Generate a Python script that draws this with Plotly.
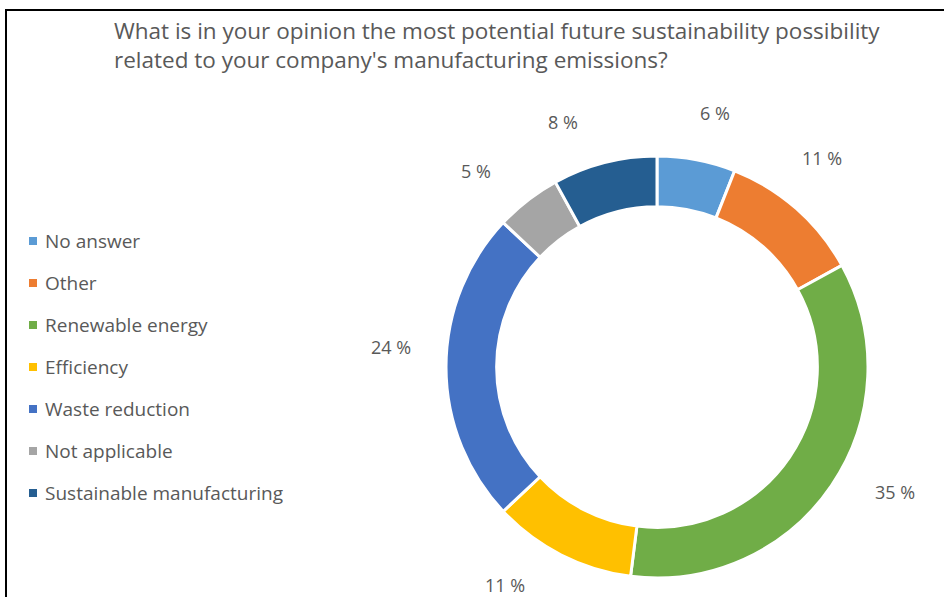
import math
import plotly.graph_objects as go

# Survey answers and their shares (%)
categories = ["No answer", "Other", "Renewable energy", "Efficiency",
              "Waste reduction", "Not applicable", "Sustainable manufacturing"]
shares = [6, 11, 35, 11, 24, 5, 8]
colors = ["#5B9BD5", "#ED7D31", "#70AD47", "#FFC000",
          "#4472C4", "#A5A5A5", "#255E91"]
title_lines = ["What is in your opinion the most potential future sustainability possibility",
               "related to your company's manufacturing emissions?"]

# small angular shifts (degrees) so the outside labels don't crowd each other
label_nudge = [2, -3, -6.5, 8, 4.3, -5, -6.6]

W, H = 944, 597
FONT = "Open Sans"
TXT = "#595959"

# donut geometry in pixels
cx, cy, r_out = 657, 367, 211
label_gap = 246          # distance from centre to the nearest edge of a label
half_w, half_h = 20, 10  # approximate half size of a label box

fig = go.Figure()
fig.add_trace(go.Pie(
    labels=categories, values=shares, sort=False, direction="clockwise",
    rotation=0, hole=0.76, textinfo="none", hoverinfo="label+percent",
    marker=dict(colors=colors, line=dict(color="white", width=3)),
    domain=dict(x=[(cx - r_out) / W, (cx + r_out) / W],
                y=[1 - (cy + r_out) / H, 1 - (cy - r_out) / H]),
    showlegend=False,
))

annotations = []
shapes = []

# percentage labels placed outside each slice near its mid-angle
total = sum(shares)
cum = 0
for v, nudge in zip(shares, label_nudge):
    mid = (cum + v / 2) / total * 2 * math.pi + math.radians(nudge)
    cum += v
    s, c = math.sin(mid), math.cos(mid)
    r = label_gap + abs(s) * half_w + abs(c) * half_h
    px = cx + r * s
    py = cy - r * c
    annotations.append(dict(
        x=px / W, y=1 - py / H, xref="paper", yref="paper",
        text=f"{round(v / total * 100)} %", showarrow=False,
        font=dict(family=FONT, size=18, color=TXT),
        xanchor="center", yanchor="middle"))

# legend on the left
leg_x, leg_y0, leg_dy = 33, 241, 42
for i, (name, col) in enumerate(zip(categories, colors)):
    y = leg_y0 + i * leg_dy
    shapes.append(dict(type="rect", xref="paper", yref="paper",
                       x0=(leg_x - 4) / W, x1=(leg_x + 4) / W,
                       y0=1 - (y + 4) / H, y1=1 - (y - 4) / H,
                       fillcolor=col, line=dict(width=0)))
    annotations.append(dict(
        x=(leg_x + 10) / W, y=1 - y / H, xref="paper", yref="paper",
        text=name, showarrow=False, xanchor="left", yanchor="middle",
        font=dict(family=FONT, size=19, color=TXT)))

# title
annotations.append(dict(
    x=112 / W, y=1 - 13 / H, xref="paper", yref="paper",
    text="<br>".join(title_lines), showarrow=False, align="left",
    xanchor="left", yanchor="top",
    font=dict(family=FONT, size=22.5, color=TXT)))

# frame lines (top and left)
shapes.append(dict(type="line", xref="paper", yref="paper",
                   x0=5 / W, x1=1, y0=1 - 10 / H, y1=1 - 10 / H,
                   line=dict(color="black", width=2)))
shapes.append(dict(type="line", xref="paper", yref="paper",
                   x0=6 / W, x1=6 / W, y0=1 - 10 / H, y1=0,
                   line=dict(color="black", width=2)))

fig.update_layout(
    width=W, height=H, margin=dict(l=0, r=0, t=0, b=0),
    paper_bgcolor="white", plot_bgcolor="white",
    annotations=annotations, shapes=shapes,
)

fig.write_html("out.html")
